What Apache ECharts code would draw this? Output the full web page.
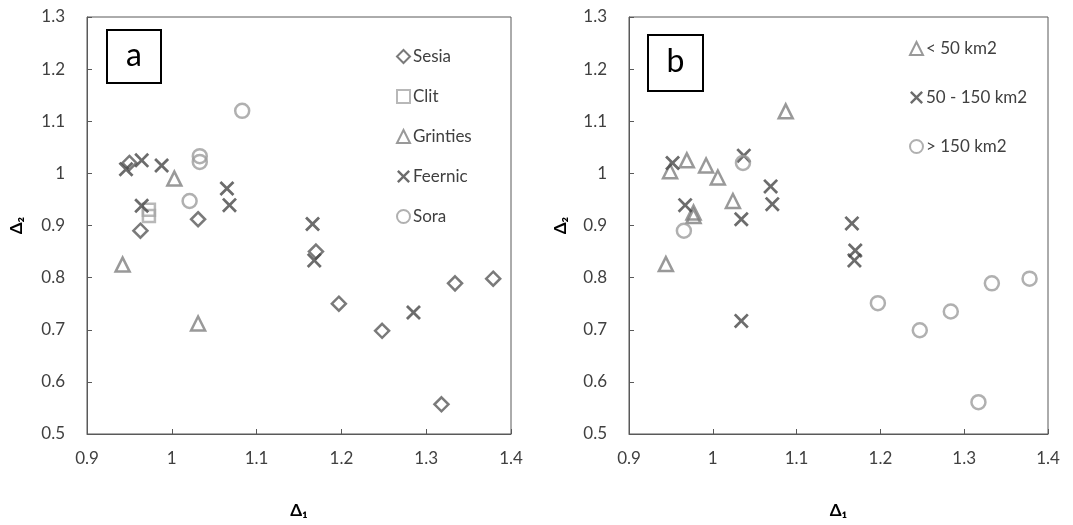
<!DOCTYPE html>
<html><head><meta charset="utf-8">
<script src="https://cdn.jsdelivr.net/npm/echarts@6/dist/echarts.min.js"></script>
<style>html,body{margin:0;padding:0;background:#fff}#c{width:1073px;height:525px}</style>
</head><body><div id="c"></div>
<script>
// Panel a: by basin
const sesia = [[0.95,1.02],[0.963,0.89],[1.031,0.912],[1.17,0.85],[1.197,0.75],[1.248,0.698],[1.334,0.789],[1.379,0.798],[1.318,0.557]];
const clit = [[0.973,0.93],[0.973,0.918]];
const grinties = [[0.942,0.825],[1.003,0.99],[1.031,0.712]];
const feernic = [[0.946,1.008],[0.9645,1.025],[0.988,1.015],[0.9645,0.938],[1.065,0.971],[1.068,0.939],[1.166,0.903],[1.168,0.833],[1.285,0.733]];
const sora = [[1.083,1.12],[1.033,1.033],[1.033,1.022],[1.021,0.947]];
// Panel b: by catchment area
const small = [[1.087,1.119],[0.969,1.025],[0.949,1.004],[0.992,1.015],[1.006,0.992],[1.024,0.947],[0.977,0.925],[0.977,0.918],[0.944,0.826]];
const medium = [[0.952,1.02],[1.037,1.034],[0.967,0.939],[1.034,0.912],[1.069,0.975],[1.071,0.941],[1.034,0.717],[1.166,0.904],[1.170,0.852],[1.169,0.833]];
const large = [[1.036,1.02],[0.9655,0.89],[1.197,0.751],[1.247,0.699],[1.284,0.735],[1.333,0.789],[1.378,0.798],[1.317,0.561]];
const namesA = ['Sesia','Clit','Grinties','Feernic','Sora'];
const namesB = ['< 50 km2','50 - 150 km2','> 150 km2'];
const xTicks = {min:0.9,max:1.4,interval:0.1};
const yTicks = {min:0.5,max:1.3,interval:0.1};

const X_PATH = 'path://M1.3,0L5,3.7L8.7,0L10,1.3L6.3,5L10,8.7L8.7,10L5,6.3L1.3,10L0,8.7L3.7,5L0,1.3Z';
const FONT = 'Lato';
const txt = '#404040';

function hollow(name, data, symbol, size, color, gi){
  return {name, type:'scatter', data, symbol, symbolSize:size, xAxisIndex:gi, yAxisIndex:gi,
    itemStyle:{color:'rgba(255,255,255,0)', borderColor:color, borderWidth:2.5}};
}
function cross(name, data, color, gi){
  return {name, type:'scatter', data, symbol:X_PATH, symbolSize:15, xAxisIndex:gi, yAxisIndex:gi,
    itemStyle:{color:color}};
}
function xAxis(gi){
  return {gridIndex:gi, type:'value', min:xTicks.min, max:xTicks.max, interval:xTicks.interval,
    name:'Δ₁', nameLocation:'middle', nameGap:68,
    nameTextStyle:{fontFamily:FONT, fontWeight:'bold', fontSize:17, color:'#000'},
    axisLine:{show:true, lineStyle:{color:'#595959', width:1}},
    axisTick:{show:true, inside:true, length:5, lineStyle:{color:'#595959'}},
    axisLabel:{fontFamily:FONT, fontSize:17, color:txt, margin:16, formatter:v=>String(+v.toFixed(1))},
    splitLine:{show:false}};
}
function yAxis(gi, gap){
  return {gridIndex:gi, type:'value', min:yTicks.min, max:yTicks.max, interval:yTicks.interval,
    name:'Δ₂', nameLocation:'middle', nameGap:gap, nameRotate:90,
    nameTextStyle:{fontFamily:FONT, fontWeight:'bold', fontSize:17, color:'#000'},
    axisLine:{show:true, lineStyle:{color:'#595959', width:1}},
    axisTick:{show:true, inside:true, length:5, lineStyle:{color:'#595959'}},
    axisLabel:{fontFamily:FONT, fontSize:17, color:txt, margin:22, formatter:v=>String(+v.toFixed(1))},
    splitLine:{show:false}};
}
const chart = echarts.init(document.getElementById('c'), null, {renderer:'canvas'});
chart.setOption({
  backgroundColor:'#fff',
  animation:false,
  grid:[
    {left:87, top:17, width:424, height:417, show:true, borderColor:'#595959', borderWidth:1},
    {left:629, top:17, width:419, height:417, show:true, borderColor:'#595959', borderWidth:1}
  ],
  xAxis:[xAxis(0), xAxis(1)],
  yAxis:[yAxis(0,62), yAxis(1,60)],
  legend:[
    {data:namesA, orient:'vertical', left:396, top:48, itemWidth:13, itemHeight:13, itemGap:23, padding:0,
     textStyle:{fontFamily:FONT, fontSize:17, color:txt, padding:[0,0,0,-2]}},
    {data:namesB, orient:'vertical', left:909, top:40, itemWidth:13, itemHeight:13, itemGap:32, padding:0,
     textStyle:{fontFamily:FONT, fontSize:17, color:txt, padding:[0,0,0,-2]}}
  ],
  series:[
    hollow('Sesia', sesia, 'diamond', 14, '#595959', 0),
    hollow('Clit', clit, 'rect', 12, '#a6a6a6', 0),
    hollow('Grinties', grinties, 'triangle', 14, '#808080', 0),
    cross('Feernic', feernic, '#474747', 0),
    hollow('Sora', sora, 'circle', 14, '#9c9c9c', 0),
    hollow('< 50 km2', small, 'triangle', 14, '#808080', 1),
    cross('50 - 150 km2', medium, '#474747', 1),
    hollow('> 150 km2', large, 'circle', 14, '#9c9c9c', 1)
  ],
  graphic:[
    {type:'rect', shape:{x:107, y:30, width:54, height:53}, style:{fill:'#fff', stroke:'#000', lineWidth:2}, z:10},
    {type:'text', x:134, y:56, style:{text:'a', fontFamily:FONT, fontSize:32, fill:'#000', align:'center', verticalAlign:'middle'}, z:11},
    {type:'rect', shape:{x:648, y:35, width:55, height:56}, style:{fill:'#fff', stroke:'#000', lineWidth:2}, z:10},
    {type:'text', x:675.5, y:62, style:{text:'b', fontFamily:FONT, fontSize:32, fill:'#000', align:'center', verticalAlign:'middle'}, z:11}
  ]
});
</script></body></html>
